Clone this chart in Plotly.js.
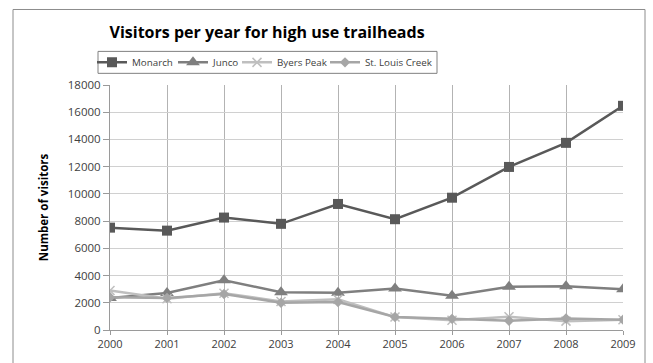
<!DOCTYPE html>
<html>
<head>
<meta charset="utf-8">
<script src="https://cdn.plot.ly/plotly-3.0.1.min.js"></script>
<style>
html,body{margin:0;padding:0;background:#fff;}
#chart{width:653px;height:363px;}
</style>
</head>
<body>
<div id="chart"></div>
<script>
const years = [2000, 2001, 2002, 2003, 2004, 2005, 2006, 2007, 2008, 2009];
const monarch = [7520, 7300, 8260, 7800, 9260, 8140, 9720, 11980, 13750, 16470];
const junco = [2350, 2720, 3650, 2780, 2740, 3050, 2520, 3180, 3220, 3000];
const byersPeak = [2900, 2300, 2700, 2100, 2250, 950, 720, 980, 650, 750];
const stLouisCreek = [2400, 2350, 2650, 2000, 2050, 950, 820, 680, 850, 760];
const seriesNames = ["Monarch", "Junco", "Byers Peak", "St. Louis Creek"];

const font = "'Open Sans', sans-serif";
const px = v => (v - 110) / 513;          // pixel x -> paper x
const py = v => (330.3 - v) / 245.6;      // pixel y -> paper y

const traces = [
  {x: years, y: monarch, name: seriesNames[0], mode: "lines+markers", legend: "legend",
   line: {color: "#595959", width: 2.5},
   marker: {symbol: "square", size: 10, color: "#595959"}},
  {x: years, y: junco, name: seriesNames[1], mode: "lines+markers", legend: "legend2",
   line: {color: "#7f7f7f", width: 2.5},
   marker: {symbol: "triangle-up", size: 12, color: "#7f7f7f"}},
  {x: years, y: byersPeak, name: seriesNames[2], mode: "lines+markers", legend: "legend3",
   line: {color: "#bfbfbf", width: 2.5},
   marker: {symbol: "x-thin", size: 9, line: {color: "#bfbfbf", width: 1.5}, color: "#bfbfbf"}},
  {x: years, y: stLouisCreek, name: seriesNames[3], mode: "lines+markers", legend: "legend4",
   line: {color: "#a6a6a6", width: 2.5},
   marker: {symbol: "diamond", size: 8, color: "#a6a6a6"}}
];

const legendAt = xpix => ({orientation: "h", x: px(xpix), xanchor: "left", y: py(62), yanchor: "middle",
  borderwidth: 0, bgcolor: "rgba(0,0,0,0)", font: {family: font, size: 9.8, color: "#404040"},
  itemwidth: 30});

const layout = {
  width: 653, height: 363,
  margin: {l: 110, r: 30, t: 85, b: 33, pad: 0},
  paper_bgcolor: "#ffffff", plot_bgcolor: "#ffffff",
  font: {family: font, size: 11, color: "#404040"},
  title: {text: "Visitors per year for high use trailheads",
          font: {family: font, size: 16, color: "#000000", weight: "bold"},
          xref: "container", yref: "container", x: 0.409, xanchor: "center",
          y: 1 - 32/363, yanchor: "middle"},
  showlegend: true,
  legend: legendAt(92),
  legend2: legendAt(173),
  legend3: legendAt(237),
  legend4: legendAt(325),
  xaxis: {range: [2000, 2009], tickvals: years, ticktext: years.map(String),
          showgrid: true, gridcolor: "#b3b3b3", gridwidth: 1,
          showline: true, linecolor: "#9a9a9a", linewidth: 1,
          ticks: "outside", ticklen: 4, tickcolor: "#9a9a9a",
          tickfont: {family: font, size: 11, color: "#404040"}, zeroline: false, fixedrange: true},
  yaxis: {range: [0, 18000], dtick: 2000, tickformat: "d",
          showgrid: true, gridcolor: "#d0d0d0", gridwidth: 1,
          showline: true, linecolor: "#9a9a9a", linewidth: 1,
          ticks: "outside", ticklen: 6, tickcolor: "#9a9a9a",
          tickfont: {family: font, size: 11.5, color: "#404040"}, zeroline: false, fixedrange: true,
          title: {text: "Number of visitors", font: {family: font, size: 11.5, color: "#000000", weight: "bold"}, standoff: 16}},
  shapes: [
    {type: "rect", xref: "paper", yref: "paper",
     x0: px(13), x1: px(645), y0: -0.3, y1: py(9),
     line: {color: "#8c8c8c", width: 1}, fillcolor: "rgba(0,0,0,0)", layer: "below"},
    {type: "rect", xref: "paper", yref: "paper",
     x0: px(98), x1: px(437), y0: py(73), y1: py(51),
     line: {color: "#808080", width: 1}, fillcolor: "rgba(0,0,0,0)", layer: "below"}
  ]
};

Plotly.newPlot("chart", traces, layout, {displayModeBar: false, staticPlot: true});
</script>
</body>
</html>
